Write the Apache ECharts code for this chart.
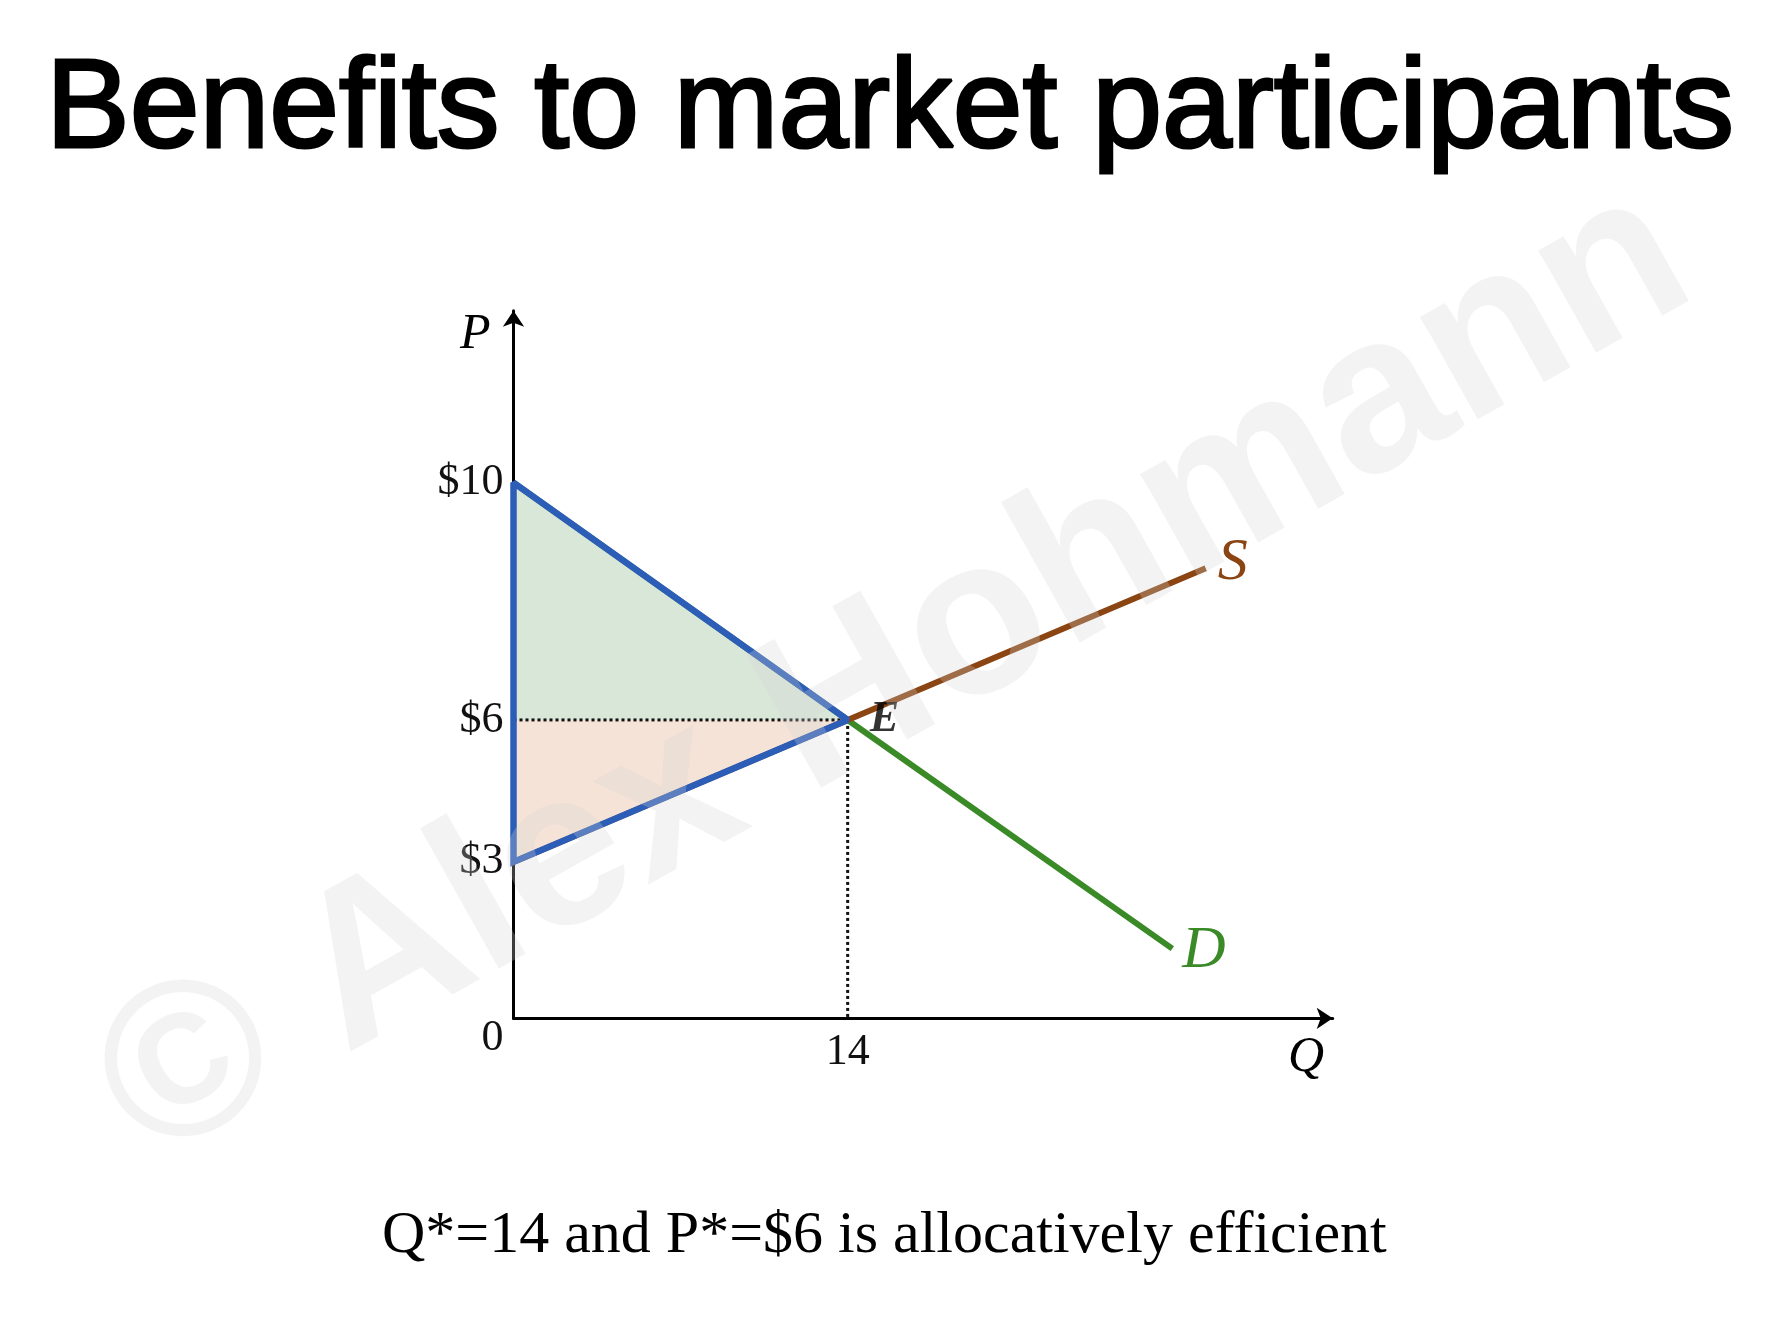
<!DOCTYPE html>
<html>
<head>
<meta charset="utf-8">
<title>Benefits to market participants</title>
<script src="https://cdn.jsdelivr.net/npm/echarts@6/dist/echarts.min.js"></script>
<style>
  html, body { margin: 0; padding: 0; background: #fff; }
  #chart { width: 1778px; height: 1320px; }
</style>
</head>
<body>
<div id="chart"></div>
<script>
// curves as drawn in the picture (quantity, price)
const demandQ = [0, 14, 27.6];
const demandP = [10, 5.57, 1.3];
const supplyQ = [0, 14, 29];
const supplyP = [2.92, 5.57, 8.4];
const eqQ = 14;
const eqP = 5.57;

// tick positions and the labels shown on them
const priceTicks = [0, 2.92, 5.57, 10];
const priceLabels = ['0', '$3', '$6', '$10'];
const qtyTicks = [14];
const qtyLabels = ['14'];

const serif = '"Liberation Serif", "DejaVu Serif", serif';
const green = '#3a8a27';
const brown = '#8b4513';
const blue = '#2c5eb8';

const pairs = (qs, ps) => qs.map((q, i) => [q, ps[i]]);

// triangles: consumer surplus (green), producer surplus (orange), total (blue outline)
const csTri = [[0, demandP[0]], [eqQ, eqP], [0, eqP]];
const psTri = [[0, eqP], [eqQ, eqP], [0, supplyP[0]]];
const totalTri = [[0, demandP[0]], [eqQ, eqP], [0, supplyP[0]]];

function polygon(points, style, z) {
  return {
    type: 'custom',
    z: z,
    silent: true,
    data: [[0, 0]],
    renderItem: (params, api) => ({
      type: 'polygon',
      shape: { points: points.map((p) => api.coord(p)) },
      style: style,
    }),
  };
}

const chart = echarts.init(document.getElementById('chart'));

chart.setOption({
  animation: false,
  backgroundColor: '#fff',
  title: [
    {
      text: 'Benefits to market participants',
      left: 41,
      top: 44,
      textStyle: {
        fontFamily: '"Liberation Sans", Arial, sans-serif',
        fontSize: 125.5,
        fontWeight: 'normal',
        color: '#000',
        textBorderColor: '#000',
        textBorderWidth: 3,
      },
    },
    {
      text: 'Q*=14 and P*=$6 is allocatively efficient',
      left: 377,
      top: 1201,
      textStyle: {
        fontFamily: serif,
        fontSize: 60,
        fontWeight: 'normal',
        color: '#000',
      },
    },
  ],
  grid: {
    left: 513.5,
    right: 445.3,
    top: 310.7,
    bottom: 301.7,
    containLabel: false,
  },
  xAxis: {
    type: 'value',
    min: 0,
    max: 34.32,
    name: 'Q',
    nameLocation: 'end',
    nameGap: -26.7,
    nameTextStyle: {
      fontFamily: serif,
      fontStyle: 'italic',
      fontSize: 50,
      color: '#000',
      align: 'center',
      verticalAlign: 'top',
      padding: [15, 0, 0, 0],
    },
    axisLine: {
      show: true,
      symbol: ['none', 'arrow'],
      symbolSize: [16, 16],
      lineStyle: { color: '#000', width: 3 },
    },
    axisTick: { show: false },
    splitLine: { show: false },
    axisLabel: {
      customValues: qtyTicks,
      formatter: (v) => qtyLabels[qtyTicks.indexOf(v)],
      margin: 12,
      fontFamily: serif,
      fontSize: 44,
      color: '#111',
    },
  },
  yAxis: {
    type: 'value',
    min: 0,
    max: 13.21,
    name: 'P',
    nameLocation: 'end',
    nameGap: -24.3,
    nameTextStyle: {
      fontFamily: serif,
      fontStyle: 'italic',
      fontSize: 50,
      color: '#000',
      align: 'right',
      verticalAlign: 'middle',
      padding: [0, 23, 0, 0],
    },
    axisLine: {
      show: true,
      symbol: ['none', 'arrow'],
      symbolSize: [16, 16],
      lineStyle: { color: '#000', width: 3 },
    },
    axisTick: { show: false },
    splitLine: { show: false },
    axisLabel: {
      customValues: priceTicks,
      formatter: (v) => {
        const s = priceLabels[priceTicks.indexOf(v)];
        return v === 0 ? '{z|' + s + '}' : s;
      },
      margin: 10,
      fontFamily: serif,
      fontSize: 44,
      color: '#111',
      rich: {
        z: { fontFamily: serif, fontSize: 44, color: '#111', padding: [40, 0, 0, 0] },
      },
    },
  },
  series: [
    polygon(csTri, { fill: 'rgb(217,231,216)' }, 1),
    polygon(psTri, { fill: 'rgb(246,227,215)' }, 1),
    {
      // dotted guides to the equilibrium
      type: 'line',
      z: 2,
      symbol: 'none',
      silent: true,
      data: [[0, eqP], [eqQ, eqP]],
      lineStyle: { color: '#111', width: 3, type: [3, 3] },
    },
    {
      type: 'line',
      z: 2,
      symbol: 'none',
      silent: true,
      data: [[eqQ, eqP], [eqQ, 0]],
      lineStyle: { color: '#111', width: 3, type: [3, 3] },
    },
    {
      name: 'D',
      type: 'line',
      z: 3,
      symbol: 'none',
      data: pairs(demandQ, demandP),
      lineStyle: { color: green, width: 6 },
      endLabel: {
        show: true,
        formatter: 'D',
        distance: 10,
        offset: [0, 3],
        fontFamily: serif,
        fontStyle: 'italic',
        fontSize: 60,
        color: green,
      },
    },
    {
      name: 'S',
      type: 'line',
      z: 3,
      symbol: 'none',
      data: pairs(supplyQ, supplyP),
      lineStyle: { color: brown, width: 6 },
      endLabel: {
        show: true,
        formatter: 'S',
        distance: 12,
        offset: [0, -5],
        fontFamily: serif,
        fontStyle: 'italic',
        fontSize: 60,
        color: brown,
      },
    },
    polygon(totalTri, { fill: null, stroke: blue, lineWidth: 6.5, lineJoin: 'miter', miterLimit: 2 }, 4),
    {
      // equilibrium point label
      type: 'scatter',
      z: 5,
      symbolSize: 0,
      data: [[eqQ, eqP]],
      label: {
        show: true,
        formatter: 'E',
        position: 'right',
        distance: 22,
        fontFamily: serif,
        fontStyle: 'italic',
        fontWeight: 'bold',
        fontSize: 44,
        color: '#000',
      },
    },
  ],
  graphic: [
    {
      type: 'text',
      z: 100,
      silent: true,
      x: 895,
      y: 676,
      rotation: (29.3 * Math.PI) / 180,
      style: {
        text: '© Alex Hohmann',
        font: 'bold 222px "Liberation Sans", Arial, sans-serif',
        fill: 'rgba(211,211,211,0.28)',
        align: 'center',
        verticalAlign: 'middle',
      },
    },
  ],
});
</script>
</body>
</html>
